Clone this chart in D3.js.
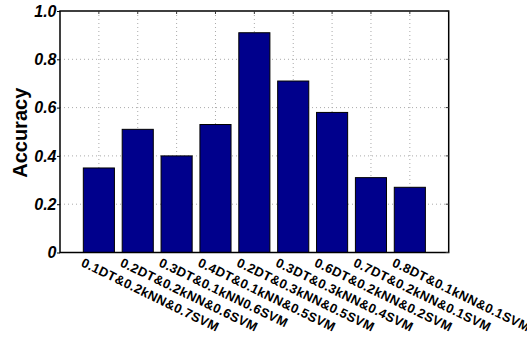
<!DOCTYPE html>
<html><head><meta charset="utf-8">
<script src="https://cdn.jsdelivr.net/npm/d3@7"></script>
<style>body{margin:0;background:#fff}svg{display:block}</style>
</head><body>
<script>
const categories = ["0.1DT&0.2kNN&0.7SVM","0.2DT&0.2kNN&0.6SVM","0.3DT&0.1kNN0.6SVM","0.4DT&0.1kNN&0.5SVM","0.2DT&0.3kNN&0.5SVM","0.3DT&0.3kNN&0.4SVM","0.6DT&0.2kNN&0.2SVM","0.7DT&0.2kNN&0.1SVM","0.8DT&0.1kNN&0.1SVM"];
const accuracy = [0.35, 0.51, 0.40, 0.53, 0.91, 0.71, 0.58, 0.31, 0.27];
const yTicks = [0, 0.2, 0.4, 0.6, 0.8, 1.0];
const yTickLabels = ["0", "0.2", "0.4", "0.6", "0.8", "1.0"];

const W = 527, H = 339;
const L = 60, R = 448.7, T = 11, B = 252.5;
const FONT = "'Liberation Sans', Arial, Helvetica, sans-serif";
const svg = d3.select("body").append("svg").attr("width", W).attr("height", H);
const x = d3.scaleLinear().domain([0, categories.length + 1]).range([L, R]);
const y = d3.scaleLinear().domain([0, 1]).range([B, T]);
const idx = categories.map((d, i) => i + 1);
const bw = (x(1) - x(0)) * 0.8;

// grid
const g = svg.append("g");
g.selectAll("line.gx").data(idx).join("line")
  .attr("x1", d => x(d)).attr("x2", d => x(d)).attr("y1", T).attr("y2", B)
  .attr("stroke", "#aaa").attr("stroke-width", 1).attr("stroke-dasharray", "1,3");
g.selectAll("line.gy").data(yTicks.slice(1, -1)).join("line")
  .attr("x1", L).attr("x2", R).attr("y1", d => y(d)).attr("y2", d => y(d))
  .attr("stroke", "#aaa").attr("stroke-width", 1).attr("stroke-dasharray", "1,3");

// bars
svg.selectAll("rect.bar").data(accuracy).join("rect")
  .attr("x", (d, i) => x(i + 1) - bw / 2).attr("width", bw)
  .attr("y", d => y(d)).attr("height", d => y(0) - y(d))
  .attr("fill", "#00008c").attr("stroke", "#000").attr("stroke-width", 1);

// box
svg.append("rect").attr("x", L).attr("y", T).attr("width", R - L).attr("height", B - T)
  .attr("fill", "none").attr("stroke", "#000").attr("stroke-width", 1.5);

// y axis (tick marks via d3 axis)
const yAxis = d3.axisLeft(y).tickValues(yTicks).tickFormat("").tickSize(3);
const ya = svg.append("g").attr("transform", `translate(${L},0)`).call(yAxis);
ya.select(".domain").remove();
ya.selectAll("line").attr("stroke", "#000");
ya.selectAll(".tick text").remove();

// y tick labels
svg.selectAll("text.ylab").data(yTicks).join("text")
  .attr("class", "ylab")
  .attr("x", L - 3.5).attr("y", d => y(d)).attr("dy", "0.36em")
  .attr("text-anchor", "end")
  .attr("font-family", FONT).attr("font-size", 16).attr("font-weight", "bold").attr("font-style", "italic")
  .text((d, i) => yTickLabels[i]);

// top and right inner ticks
svg.selectAll("line.tt").data(idx).join("line")
  .attr("x1", d => x(d)).attr("x2", d => x(d)).attr("y1", T).attr("y2", T + 3)
  .attr("stroke", "#333").attr("stroke-width", 1);
svg.selectAll("line.rt").data(yTicks).join("line")
  .attr("x1", R - 3).attr("x2", R).attr("y1", d => y(d)).attr("y2", d => y(d))
  .attr("stroke", "#333").attr("stroke-width", 1);

// x labels
svg.selectAll("text.xl").data(categories).join("text")
  .attr("transform", (d, i) => `translate(${x(i + 1) - 18.5},${B + 13.2}) rotate(26)`)
  .style("font-family", FONT).style("font-size", "13px")
  .style("font-weight", "bold").style("letter-spacing", "0.35px").attr("fill", "#000")
  .text(d => d);

// y label
svg.append("text").attr("transform", `translate(27,${(T + B) / 2 + 1}) rotate(-90)`)
  .attr("text-anchor", "middle").style("font-family", FONT)
  .style("font-size", "20px").style("font-weight", "bold").text("Accuracy");
</script>
</body></html>
